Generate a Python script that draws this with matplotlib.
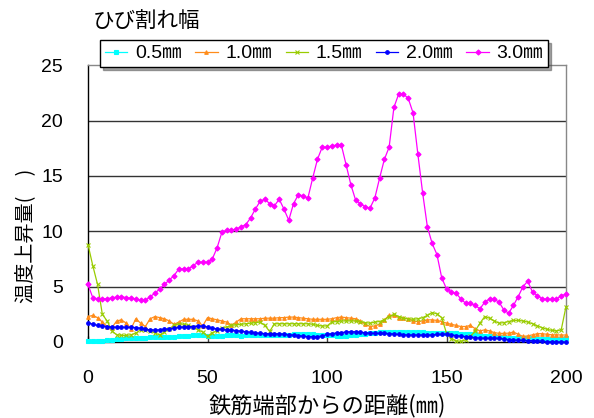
import matplotlib
matplotlib.use("Agg")
import matplotlib.pyplot as plt
import numpy as np

# distance from rebar end (mm), every 2 mm
x_mm = list(range(0, 201, 2))

series_labels = ["0.5㎜", "1.0㎜", "1.5㎜", "2.0㎜", "3.0㎜"]

w05 = [0.12, 0.12, 0.12, 0.12, 0.2, 0.22, 0.25, 0.3, 0.32, 0.33, 0.33, 0.33, 0.35, 0.42, 0.46, 0.48,
       0.48, 0.48, 0.48, 0.5, 0.52, 0.55, 0.6, 0.62, 0.6, 0.56, 0.54, 0.54, 0.56, 0.6, 0.62, 0.6,
       0.58, 0.6, 0.62, 0.62, 0.63, 0.63, 0.62, 0.6, 0.6, 0.62, 0.65, 0.68, 0.72, 0.75, 0.75, 0.68,
       0.62, 0.6, 0.6, 0.6, 0.58, 0.56, 0.56, 0.6, 0.65, 0.7, 0.75, 0.8, 0.85, 0.88, 0.9, 0.92,
       0.92, 0.92, 0.92, 0.92, 0.9, 0.88, 0.86, 0.85, 0.83, 0.8, 0.78, 0.78, 0.78, 0.78, 0.76, 0.75,
       0.72, 0.68, 0.63, 0.58, 0.53, 0.5, 0.46, 0.42, 0.38, 0.35, 0.33, 0.33, 0.33, 0.33, 0.3, 0.27,
       0.25, 0.25, 0.27, 0.3, 0.33]

w10 = [2.3, 2.4, 2.2, 1.8, 1.4, 1.3, 1.9, 2.0, 1.7, 1.2, 2.1, 1.7, 1.4, 2.1, 2.3, 2.2,
       2.1, 1.9, 1.6, 1.8, 2.05, 2.05, 2.05, 1.9, 1.45, 2.2, 2.1, 2.0, 1.9, 1.8, 1.5, 1.8,
       2.1, 2.1, 2.1, 2.1, 2.1, 2.15, 2.15, 2.15, 2.2, 2.2, 2.25, 2.25, 2.2, 2.15, 2.1, 2.05,
       2.05, 2.05, 2.05, 2.1, 2.2, 2.25, 2.2, 2.15, 2.1, 1.9, 1.6, 1.4, 1.45, 1.6, 2.0, 2.4,
       2.4, 2.2, 2.15, 2.1, 1.9, 1.85, 1.9, 2.0, 2.0, 1.95, 1.85, 1.7, 1.6, 1.5, 1.4, 1.4,
       1.5, 1.2, 1.0, 1.1, 1.0, 0.85, 0.78, 0.78, 0.8, 0.9, 0.7, 0.5, 0.55, 0.65, 0.75, 0.75,
       0.7, 0.65, 0.65, 0.63, 0.63]

w15 = [8.8, 6.9, 5.2, 2.5, 1.9, 1.0, 0.65, 0.6, 0.6, 0.65, 0.8, 1.1, 1.1, 1.0, 0.8, 0.65,
       0.9, 1.2, 1.5, 1.65, 1.6, 1.5, 1.35, 1.1, 0.9, 0.5, 0.85, 1.0, 1.3, 1.35, 1.5, 1.55,
       1.6, 1.65, 1.7, 1.75, 1.8, 1.5, 0.95, 1.65, 1.65, 1.65, 1.65, 1.65, 1.65, 1.65, 1.65, 1.6,
       1.5, 1.45, 1.45, 1.8, 1.85, 1.9, 1.9, 1.9, 1.9, 1.85, 1.75, 1.7, 1.8, 1.85, 2.0, 2.3,
       2.5, 2.3, 2.15, 2.1, 2.05, 2.1, 2.2, 2.4, 2.65, 2.55, 2.2, 0.8, 0.3, 0.1, 0.05, 0.2,
       0.5, 1.0, 1.7, 2.3, 2.15, 1.9, 1.7, 1.75, 1.85, 1.95, 1.95, 1.9, 1.8, 1.65, 1.45, 1.3,
       1.15, 1.05, 1.0, 1.1, 3.2]

w20 = [1.75, 1.6, 1.5, 1.45, 1.4, 1.35, 1.33, 1.33, 1.33, 1.33, 1.3, 1.25, 1.15, 1.1, 1.08, 1.1,
       1.15, 1.2, 1.25, 1.32, 1.35, 1.38, 1.4, 1.43, 1.45, 1.35, 1.25, 1.18, 1.13, 1.1, 1.08, 1.03,
       0.98, 0.93, 0.88, 0.83, 0.78, 0.76, 0.74, 0.75, 0.73, 0.7, 0.65, 0.63, 0.58, 0.52, 0.48, 0.48,
       0.48, 0.55, 0.68, 0.75, 0.82, 0.85, 0.9, 0.93, 0.92, 0.88, 0.84, 0.8, 0.78, 0.78, 0.78, 0.76,
       0.72, 0.68, 0.65, 0.63, 0.63, 0.63, 0.63, 0.63, 0.65, 0.68, 0.7, 0.72, 0.65, 0.58, 0.52, 0.48,
       0.45, 0.4, 0.35, 0.33, 0.33, 0.33, 0.32, 0.28, 0.22, 0.18, 0.16, 0.14, 0.12, 0.12, 0.1, 0.06,
       0.03, 0.02, 0.01, 0.0, 0.0]

w30 = [5.2, 4.0, 3.9, 3.9, 3.9, 4.0, 4.05, 4.1, 4.0, 3.95, 3.9, 3.75, 3.75, 4.1, 4.4, 4.8,
       5.2, 5.6, 6.0, 6.6, 6.6, 6.6, 6.9, 7.2, 7.2, 7.2, 7.5, 8.5, 9.9, 10.1, 10.1, 10.2,
       10.4, 10.6, 11.2, 12.0, 12.7, 12.9, 12.5, 12.3, 12.9, 12.0, 11.0, 12.5, 13.3, 13.2, 13.0, 14.8,
       16.5, 17.6, 17.6, 17.7, 17.8, 17.8, 16.0, 14.2, 12.8, 12.5, 12.2, 12.1, 13.0, 14.8, 16.5, 17.6,
       21.2, 22.4, 22.4, 22.0, 20.7, 17.0, 13.5, 10.4, 8.9, 7.9, 5.8, 4.8, 4.5, 4.4, 3.9, 3.5,
       3.5, 3.3, 3.0, 3.6, 3.9, 3.85, 3.6, 2.9, 2.6, 3.3, 4.1, 5.0, 5.5, 4.5, 4.2, 3.9,
       3.85, 3.85, 3.85, 4.2, 4.3]

series_values = [w05, w10, w15, w20, w30]
colors = ["#00FFFF", "#FF8C1A", "#99CC00", "#0000FF", "#FF00FF"]
markers = ["s", "^", "x", "o", "D"]

x_ticks = [0, 50, 100, 150, 200]
y_ticks = [0, 5, 10, 15, 20, 25]

W, H = 594, 418
fig = plt.figure(figsize=(W / 100, H / 100), dpi=100)
ax_l, ax_r, ax_b, ax_t = 88, 566, 342, 65.25
ax = fig.add_axes([ax_l / W, 1 - ax_b / H, (ax_r - ax_l) / W, (ax_b - ax_t) / H])

num_font = ["Liberation Sans", "Noto Sans CJK JP"]
jp_font = ["Noto Sans CJK JP", "DejaVu Sans"]

handles = []
for vals, lab, c, m in zip(series_values, series_labels, colors, markers):
    h, = ax.plot(x_mm, vals, color=c, lw=0.9, marker=m, markersize=2.6,
                 markeredgewidth=0.8, markerfacecolor=c, markeredgecolor=c, label=lab,
                 clip_on=False, zorder=3)
    handles.append(h)

ax.set_xlim(0, 200)
ax.set_ylim(0, 25)
ax.set_xticks(x_ticks)
ax.set_yticks(y_ticks)
for y in y_ticks[1:-1]:
    ax.axhline(y, color="#333333", lw=1.0, zorder=1)

for s in ["left", "bottom"]:
    ax.spines[s].set_color("black")
    ax.spines[s].set_linewidth(1.0)
for s in ["top", "right"]:
    ax.spines[s].set_color("#888888")
    ax.spines[s].set_linewidth(1.0)

ax.tick_params(axis="x", direction="in", length=4, width=1, color="#444444", pad=20)
ax.tick_params(axis="y", length=0, pad=18)
for lbl in ax.get_xticklabels() + ax.get_yticklabels():
    lbl.set_family(num_font)
    lbl.set_fontsize(14)

fig.text(327 / W, 1 - 406 / H, "鉄筋端部からの距離(㎜)", family=jp_font, fontsize=16,
         ha="center", va="center")
fig.text(26 / W, 1 - 236 / H, "温度上昇量(　)", rotation=90, family=jp_font,
         fontsize=14.5, ha="center", va="center")
fig.text(93 / W, 1 - 21 / H, "ひび割れ幅", family=jp_font, fontsize=15.5,
         ha="left", va="center")

leg = fig.legend(handles=handles, loc="upper left", bbox_to_anchor=(100 / W, 1 - 40 / H),
                 ncol=5, frameon=True, fancybox=False, shadow=True, borderpad=0.25,
                 handlelength=1.15, handletextpad=0.4, columnspacing=0.7,
                 borderaxespad=0, prop={"family": num_font, "size": 14})
leg.get_frame().set_edgecolor("black")
leg.get_frame().set_linewidth(1.0)
leg.get_frame().set_alpha(1)

fig.savefig("out.png", dpi=100)
